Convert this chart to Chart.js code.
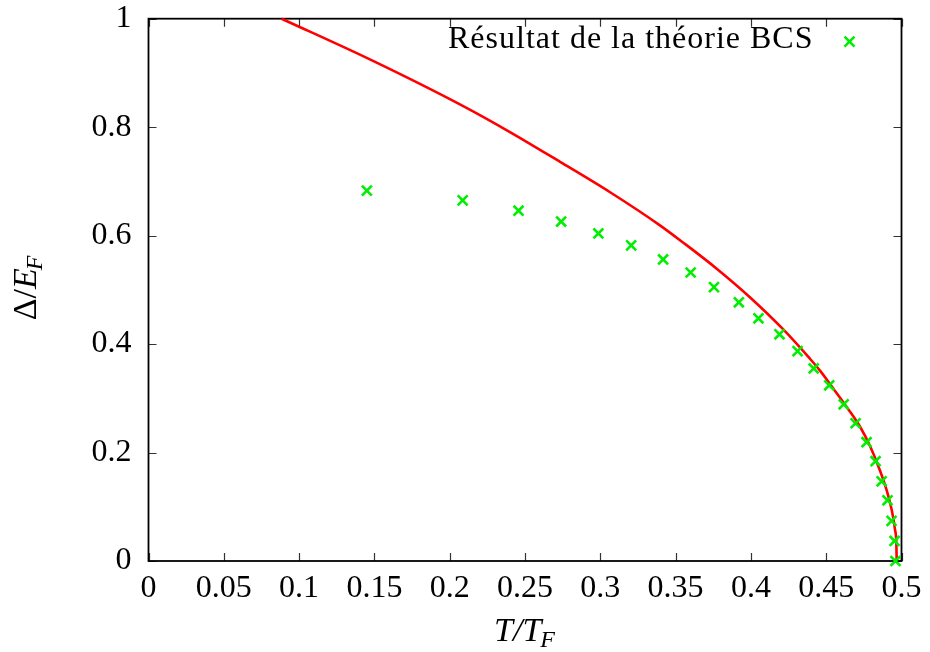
<!DOCTYPE html>
<html>
<head>
<meta charset="utf-8">
<script src="https://cdn.jsdelivr.net/npm/chart.js@4.4.1/dist/chart.umd.min.js"></script>
<style>
  html, body { margin: 0; padding: 0; background: #fff; }
  #wrap { width: 930px; height: 652px; }
</style>
</head>
<body>
<div id="wrap"><canvas id="chart"></canvas></div>
<script>
// axis ticks
const xTicks = [0, 0.05, 0.1, 0.15, 0.2, 0.25, 0.3, 0.35, 0.4, 0.45, 0.5]
const xTickLabels = ['0', '0.05', '0.1', '0.15', '0.2', '0.25', '0.3', '0.35', '0.4', '0.45', '0.5']
const yTicks = [0, 0.2, 0.4, 0.6, 0.8, 1]
const yTickLabels = ['0', '0.2', '0.4', '0.6', '0.8', '1']

// BCS theory points (green crosses)
const bcsLabel = 'Résultat de la théorie BCS'
const bcsT = [0.145, 0.2086, 0.2457, 0.274, 0.2987, 0.3205, 0.3417, 0.360, 0.3755, 0.392,
  0.405, 0.419, 0.431, 0.4417, 0.452, 0.4616, 0.4695, 0.4768, 0.4828, 0.4868,
  0.4907, 0.4934, 0.4954, 0.496]
const bcsGap = [0.683, 0.665, 0.646, 0.626, 0.604, 0.582, 0.556, 0.532, 0.505, 0.477,
  0.4475, 0.418, 0.387, 0.355, 0.324, 0.289, 0.254, 0.219, 0.184, 0.147,
  0.112, 0.074, 0.037, 0.0]

// red curve
const curveT = [0.0884, 0.147, 0.2068, 0.240, 0.2733, 0.3065, 0.3396, 0.3551, 0.3773, 0.3995,
  0.4215, 0.4392, 0.4459, 0.4547, 0.4636, 0.4724, 0.4791, 0.4857, 0.4902, 0.4935,
  0.4957, 0.4966, 0.4968]
const curveGap = [1.0, 0.925, 0.842, 0.791, 0.736, 0.680, 0.619, 0.587, 0.539, 0.486,
  0.427, 0.373, 0.351, 0.318, 0.284, 0.248, 0.212, 0.167, 0.130, 0.094,
  0.058, 0.03, 0.0]

const serif = '"Liberation Serif", "DejaVu Serif", serif'
const toXY = (xs, ys) => xs.map((x, i) => ({ x: x, y: ys[i] }))

// gnuplot-like frame: border + inward ticks on all four sides
const framePlugin = {
  id: 'frame',
  beforeDatasetsDraw(chart) {
    const { ctx, chartArea: a, scales } = chart
    const len = 8
    ctx.save()
    ctx.strokeStyle = '#333'
    ctx.lineWidth = 1.2
    ctx.beginPath()
    xTicks.forEach(v => {
      const px = Math.round(scales.x.getPixelForValue(v)) + 0.5
      ctx.moveTo(px, a.bottom); ctx.lineTo(px, a.bottom - len)
      ctx.moveTo(px, a.top); ctx.lineTo(px, a.top + len)
    })
    yTicks.forEach(v => {
      const py = Math.round(scales.y.getPixelForValue(v)) + 0.5
      ctx.moveTo(a.left, py); ctx.lineTo(a.left + len, py)
      ctx.moveTo(a.right, py); ctx.lineTo(a.right - len, py)
    })
    ctx.stroke()
    ctx.strokeStyle = '#000'
    ctx.lineWidth = 1.8
    ctx.strokeRect(a.left, a.top, a.right - a.left, a.bottom - a.top)
    ctx.restore()
  }
}

// axis titles with subscripts, and the key (text then sample on its right)
const labelsPlugin = {
  id: 'labels',
  afterDraw(chart) {
    const { ctx, chartArea: a } = chart
    ctx.save()
    ctx.fillStyle = '#000'
    ctx.textBaseline = 'alphabetic'

    // x title: T/T_F
    const big = 'italic 34px ' + serif
    const sub = 'italic 24px ' + serif
    ctx.font = big
    const w1 = ctx.measureText('T/T').width
    ctx.font = sub
    const w2 = ctx.measureText('F').width
    const x0 = (a.left + a.right) / 2 - (w1 + w2) / 2
    const base = 641
    ctx.font = big
    ctx.fillText('T/T', x0, base)
    ctx.font = sub
    ctx.fillText('F', x0 + w1 - 1, base + 6)

    // y title: Δ/E_F (rotated)
    ctx.translate(36, 287)
    ctx.rotate(-Math.PI / 2)
    const up = '34px ' + serif
    ctx.font = up
    const wa = ctx.measureText('Δ/').width
    ctx.font = big
    const wb = ctx.measureText('E').width
    ctx.font = sub
    const wc = ctx.measureText('F').width
    const s = -(wa + wb + wc) / 2
    ctx.font = up
    ctx.fillText('Δ/', s, 0)
    ctx.font = big
    ctx.fillText('E', s + wa, 0)
    ctx.font = sub
    ctx.fillText('F', s + wa + wb - 2, 6)
    ctx.setTransform(1, 0, 0, 1, 0, 0)

    // key
    const ds = chart.data.datasets[0]
    ctx.font = '32px ' + serif
    ctx.letterSpacing = '1px'
    ctx.textAlign = 'right'
    ctx.fillText(ds.label, a.right - 88, a.top + 29)
    ctx.letterSpacing = '0px'
    const cx = a.right - 52, cy = a.top + 23, h = 5
    ctx.strokeStyle = ds.borderColor
    ctx.lineWidth = ds.borderWidth
    ctx.beginPath()
    ctx.moveTo(cx - h, cy - h); ctx.lineTo(cx + h, cy + h)
    ctx.moveTo(cx - h, cy + h); ctx.lineTo(cx + h, cy - h)
    ctx.stroke()
    ctx.restore()
  }
}

const tickFont = { family: serif, size: 32 }

new Chart(document.getElementById('chart'), {
  type: 'scatter',
  data: {
    datasets: [
      {
        label: bcsLabel,
        data: toXY(bcsT, bcsGap),
        showLine: false,
        pointStyle: 'crossRot',
        pointRadius: 7,
        pointHoverRadius: 7,
        borderColor: '#00ee00',
        backgroundColor: '#00ee00',
        borderWidth: 2.6,
        clip: false,
        order: 1
      },
      {
        label: 'courbe',
        data: toXY(curveT, curveGap),
        showLine: true,
        pointRadius: 0,
        borderColor: '#ff0000',
        borderWidth: 2.6,
        cubicInterpolationMode: 'monotone',
        clip: false,
        order: 2
      }
    ]
  },
  options: {
    responsive: true,
    maintainAspectRatio: false,
    animation: false,
    events: [],
    layout: { padding: { top: 18.7, right: 28.5, left: 0, bottom: 0 } },
    plugins: {
      legend: { display: false },
      tooltip: { enabled: false }
    },
    scales: {
      x: {
        type: 'linear',
        min: 0,
        max: 0.5,
        afterBuildTicks: s => { s.ticks = xTicks.map(v => ({ value: v })) },
        afterFit: s => { s.height = 91; s.paddingLeft = 0; s.paddingRight = 0 },
        ticks: {
          callback: (v, i) => xTickLabels[i],
          font: tickFont,
          color: '#000',
          padding: 8,
          maxRotation: 0,
          autoSkip: false
        },
        grid: { drawOnChartArea: false, drawTicks: false },
        border: { display: false }
      },
      y: {
        type: 'linear',
        min: 0,
        max: 1,
        afterBuildTicks: s => { s.ticks = yTicks.map(v => ({ value: v })) },
        afterFit: s => { s.width = 148.5; s.paddingTop = 0; s.paddingBottom = 0 },
        ticks: {
          callback: (v, i) => yTickLabels[i],
          font: tickFont,
          color: '#000',
          padding: 17,
          autoSkip: false
        },
        grid: { drawOnChartArea: false, drawTicks: false },
        border: { display: false }
      }
    }
  },
  plugins: [framePlugin, labelsPlugin]
})
</script>
</body>
</html>
